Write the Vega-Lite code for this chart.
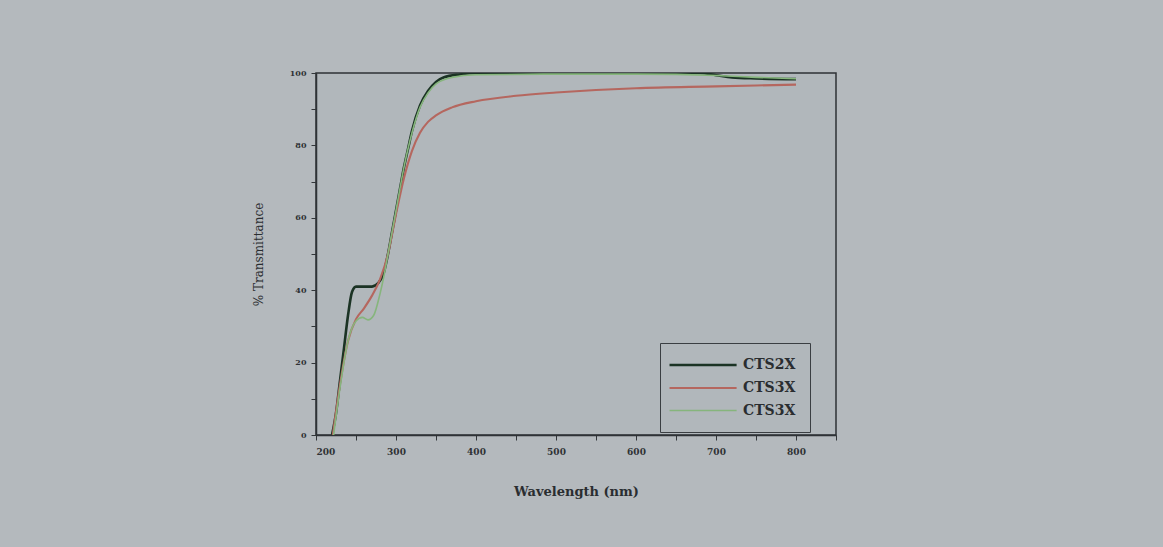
{
  "$schema": "https://vega.github.io/schema/vega-lite/v6.json",
  "width": 520,
  "height": 362,
  "autosize": "none",
  "padding": {"left": 316, "top": 73, "right": 327, "bottom": 112},
  "background": "#b4b9bd",
  "config": {
    "view": {"fill": "#b1b7bb", "stroke": "#2e3236", "strokeWidth": 1.5},
    "font": "DejaVu Serif"
  },
  "data": {"values": [
    {"wl": 220, "t": 0, "s": "CTS2X"},
    {"wl": 225, "t": 6, "s": "CTS2X"},
    {"wl": 230, "t": 15, "s": "CTS2X"},
    {"wl": 235, "t": 24, "s": "CTS2X"},
    {"wl": 240, "t": 33, "s": "CTS2X"},
    {"wl": 245, "t": 39.5, "s": "CTS2X"},
    {"wl": 250, "t": 41, "s": "CTS2X"},
    {"wl": 260, "t": 41, "s": "CTS2X"},
    {"wl": 270, "t": 41, "s": "CTS2X"},
    {"wl": 278, "t": 42, "s": "CTS2X"},
    {"wl": 285, "t": 45, "s": "CTS2X"},
    {"wl": 290, "t": 50, "s": "CTS2X"},
    {"wl": 295, "t": 56, "s": "CTS2X"},
    {"wl": 300, "t": 62, "s": "CTS2X"},
    {"wl": 305, "t": 68, "s": "CTS2X"},
    {"wl": 310, "t": 74, "s": "CTS2X"},
    {"wl": 315, "t": 79, "s": "CTS2X"},
    {"wl": 320, "t": 84, "s": "CTS2X"},
    {"wl": 330, "t": 91, "s": "CTS2X"},
    {"wl": 340, "t": 95, "s": "CTS2X"},
    {"wl": 350, "t": 97.5, "s": "CTS2X"},
    {"wl": 360, "t": 98.8, "s": "CTS2X"},
    {"wl": 380, "t": 99.6, "s": "CTS2X"},
    {"wl": 400, "t": 100, "s": "CTS2X"},
    {"wl": 500, "t": 100, "s": "CTS2X"},
    {"wl": 600, "t": 100, "s": "CTS2X"},
    {"wl": 680, "t": 100, "s": "CTS2X"},
    {"wl": 700, "t": 99.4, "s": "CTS2X"},
    {"wl": 720, "t": 98.8, "s": "CTS2X"},
    {"wl": 750, "t": 98.5, "s": "CTS2X"},
    {"wl": 800, "t": 98.3, "s": "CTS2X"},

    {"wl": 221, "t": 0, "s": "CTS3X"},
    {"wl": 230, "t": 14, "s": "CTS3X"},
    {"wl": 240, "t": 26, "s": "CTS3X"},
    {"wl": 250, "t": 32, "s": "CTS3X"},
    {"wl": 260, "t": 35, "s": "CTS3X"},
    {"wl": 270, "t": 38.5, "s": "CTS3X"},
    {"wl": 280, "t": 43, "s": "CTS3X"},
    {"wl": 290, "t": 50, "s": "CTS3X"},
    {"wl": 300, "t": 61, "s": "CTS3X"},
    {"wl": 310, "t": 71, "s": "CTS3X"},
    {"wl": 320, "t": 78.5, "s": "CTS3X"},
    {"wl": 330, "t": 83.5, "s": "CTS3X"},
    {"wl": 340, "t": 86.5, "s": "CTS3X"},
    {"wl": 350, "t": 88.3, "s": "CTS3X"},
    {"wl": 370, "t": 90.5, "s": "CTS3X"},
    {"wl": 400, "t": 92.2, "s": "CTS3X"},
    {"wl": 450, "t": 93.7, "s": "CTS3X"},
    {"wl": 500, "t": 94.6, "s": "CTS3X"},
    {"wl": 550, "t": 95.3, "s": "CTS3X"},
    {"wl": 600, "t": 95.8, "s": "CTS3X"},
    {"wl": 700, "t": 96.3, "s": "CTS3X"},
    {"wl": 800, "t": 96.8, "s": "CTS3X"},

    {"wl": 222, "t": 0, "s": "CTS3X "},
    {"wl": 230, "t": 13, "s": "CTS3X "},
    {"wl": 240, "t": 26, "s": "CTS3X "},
    {"wl": 250, "t": 31.5, "s": "CTS3X "},
    {"wl": 258, "t": 32.5, "s": "CTS3X "},
    {"wl": 265, "t": 31.8, "s": "CTS3X "},
    {"wl": 272, "t": 33, "s": "CTS3X "},
    {"wl": 280, "t": 39, "s": "CTS3X "},
    {"wl": 285, "t": 44, "s": "CTS3X "},
    {"wl": 290, "t": 50, "s": "CTS3X "},
    {"wl": 300, "t": 62, "s": "CTS3X "},
    {"wl": 310, "t": 74, "s": "CTS3X "},
    {"wl": 320, "t": 83.5, "s": "CTS3X "},
    {"wl": 330, "t": 90.5, "s": "CTS3X "},
    {"wl": 340, "t": 94.5, "s": "CTS3X "},
    {"wl": 350, "t": 97, "s": "CTS3X "},
    {"wl": 370, "t": 98.8, "s": "CTS3X "},
    {"wl": 400, "t": 99.5, "s": "CTS3X "},
    {"wl": 500, "t": 99.7, "s": "CTS3X "},
    {"wl": 600, "t": 99.7, "s": "CTS3X "},
    {"wl": 700, "t": 99.3, "s": "CTS3X "},
    {"wl": 750, "t": 98.8, "s": "CTS3X "},
    {"wl": 800, "t": 98.4, "s": "CTS3X "}
  ]},
  "mark": {"type": "line", "interpolate": "monotone", "clip": true},
  "encoding": {
    "x": {
      "field": "wl", "type": "quantitative",
      "scale": {"domain": [200, 850], "nice": false, "zero": false},
      "axis": {
        "values": [200, 250, 300, 350, 400, 450, 500, 550, 600, 650, 700, 750, 800, 850],
        "labelExpr": "datum.value % 100 == 0 && datum.value <= 800 ? datum.label : ''",
        "format": "d",
        "title": "Wavelength (nm)",
        "titleFont": "DejaVu Serif", "titleFontSize": 13, "titleFontWeight": "bold",
        "titleColor": "#2a2d30", "titlePadding": 29,
        "labelFont": "DejaVu Serif", "labelFontSize": 9, "labelFontWeight": "bold",
        "labelColor": "#2f3235", "labelPadding": 7,
        "tickSize": 5, "tickColor": "#33373a", "domainColor": "#2e3236", "domainWidth": 1.5,
        "grid": false
      }
    },
    "y": {
      "field": "t", "type": "quantitative",
      "scale": {"domain": [0, 100], "nice": false},
      "axis": {
        "values": [0, 10, 20, 30, 40, 50, 60, 70, 80, 90, 100],
        "labelExpr": "datum.value % 20 == 0 ? datum.label : ''",
        "title": "% Transmittance",
        "titleFont": "DejaVu Serif", "titleFontSize": 12, "titleFontWeight": "normal",
        "titleColor": "#2a2d30", "titlePadding": 24,
        "labelFont": "DejaVu Serif", "labelFontSize": 8, "labelFontWeight": "bold",
        "labelColor": "#2f3235", "labelPadding": 5,
        "tickSize": 5, "tickColor": "#33373a", "domainColor": "#2e3236", "domainWidth": 1.5,
        "grid": false
      }
    },
    "color": {
      "field": "s", "type": "nominal",
      "scale": {"domain": ["CTS2X", "CTS3X", "CTS3X "], "range": ["#1b3324", "#b5675f", "#86b57c"]},
      "legend": {
        "title": null, "orient": "none", "legendX": 344, "legendY": 270,
        "direction": "vertical",
        "strokeColor": "#3a3e42", "padding": 14, "fillColor": "#b1b7bb",
        "symbolType": "M-1.92,0H8.4", "symbolSize": 169, "symbolStrokeWidth": 2.5,
        "labelFont": "DejaVu Serif", "labelFontSize": 14, "labelFontWeight": "bold",
        "labelColor": "#2a2d30", "rowPadding": 8, "labelOffset": 53
      }
    },
    "strokeWidth": {
      "field": "s", "type": "nominal",
      "scale": {"domain": ["CTS2X", "CTS3X", "CTS3X "], "range": [2.6, 1.6, 1.6]},
      "legend": null
    },
    "order": {"field": "wl", "type": "quantitative"}
  }
}
